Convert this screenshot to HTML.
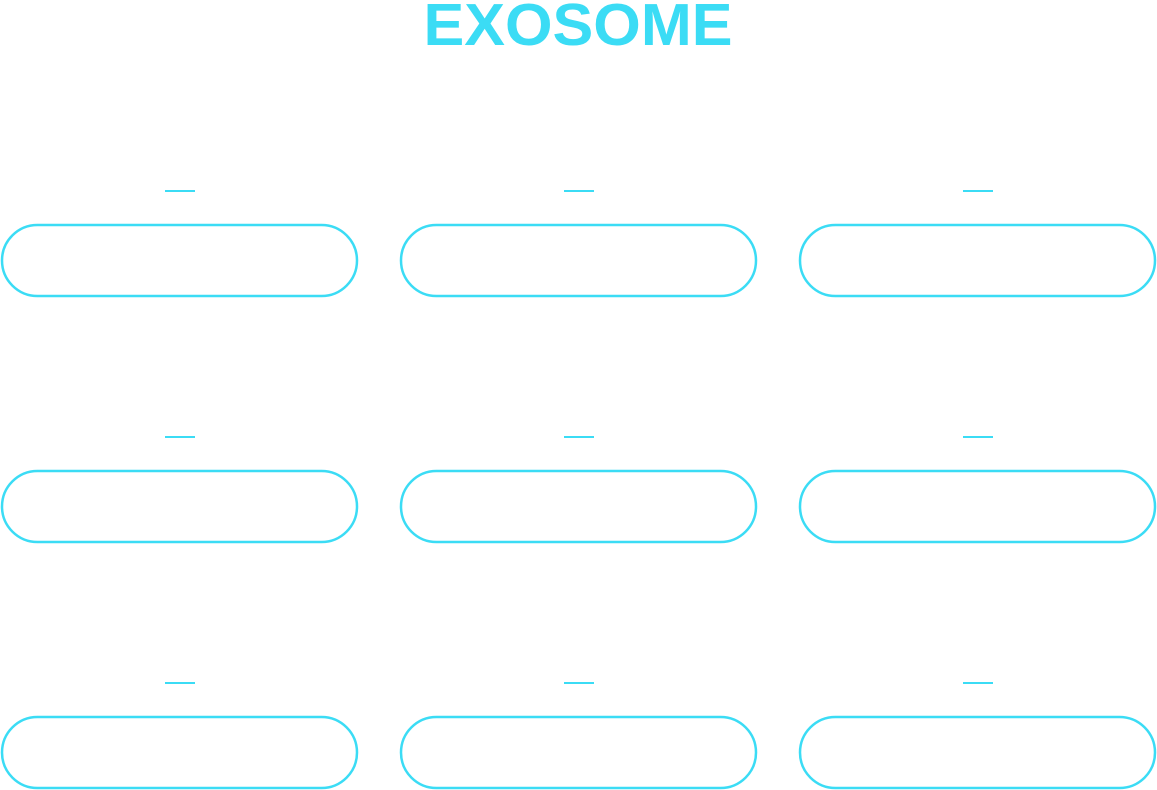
<!DOCTYPE html>
<html><head><style>
html,body{margin:0;padding:0;background:#fff;width:1157px;height:790px;overflow:hidden}
</style></head><body>
<svg width="1157" height="790" xmlns="http://www.w3.org/2000/svg">
<text x="578" y="45" text-anchor="middle" font-family="Liberation Sans, sans-serif" font-weight="bold" font-size="59" fill="#3bdcf5" textLength="309" lengthAdjust="spacingAndGlyphs">EXOSOME</text>
<g fill="none" stroke="#3bdcf5" stroke-width="2.5">
<rect x="2" y="225" width="355" height="71" rx="35.5"/>
<rect x="401" y="225" width="355" height="71" rx="35.5"/>
<rect x="800" y="225" width="355" height="71" rx="35.5"/>
<rect x="2" y="471" width="355" height="71" rx="35.5"/>
<rect x="401" y="471" width="355" height="71" rx="35.5"/>
<rect x="800" y="471" width="355" height="71" rx="35.5"/>
<rect x="2" y="717" width="355" height="71" rx="35.5"/>
<rect x="401" y="717" width="355" height="71" rx="35.5"/>
<rect x="800" y="717" width="355" height="71" rx="35.5"/>
</g>
<g fill="#3bdcf5">
<rect x="165" y="190" width="30" height="2"/>
<rect x="564" y="190" width="30" height="2"/>
<rect x="963" y="190" width="30" height="2"/>
<rect x="165" y="436" width="30" height="2"/>
<rect x="564" y="436" width="30" height="2"/>
<rect x="963" y="436" width="30" height="2"/>
<rect x="165" y="682" width="30" height="2"/>
<rect x="564" y="682" width="30" height="2"/>
<rect x="963" y="682" width="30" height="2"/>
</g>
</svg>
</body></html>
